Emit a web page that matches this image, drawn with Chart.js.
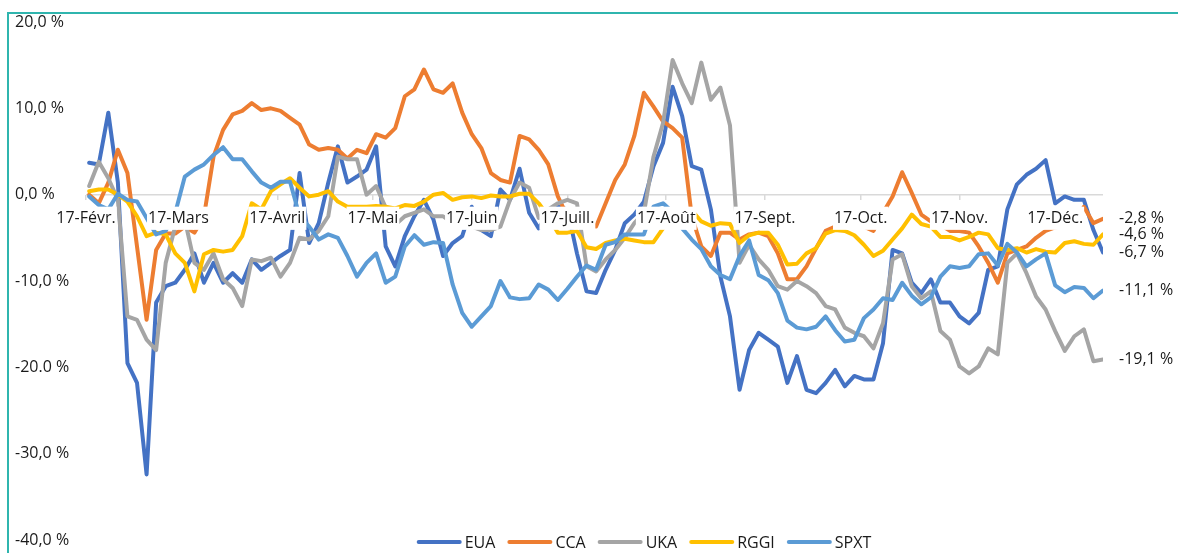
<!DOCTYPE html>
<html>
<head>
<meta charset="utf-8">
<script src="https://cdn.jsdelivr.net/npm/chart.js@4.4.0/dist/chart.umd.min.js"></script>
<style>
  html, body { margin: 0; padding: 0; background: #fff; }
  #wrap { position: relative; width: 1178px; height: 553px; }
</style>
</head>
<body>
<div id="wrap"><canvas id="chart" width="1178" height="553"></canvas></div>
<script>
// days since 17 Feb 2020 (x positions of the samples)
var days = [1, 4, 7, 10, 13, 16, 19, 22, 25, 28, 31, 34, 37, 40, 43, 46, 49, 52, 55, 58, 61, 64,
    67, 70, 73, 76, 79, 82, 85, 88, 91, 94, 97, 100, 103, 106, 109, 112, 115, 118, 121, 124, 127, 130,
    133, 136, 139, 142, 145, 148, 151, 154, 157, 160, 163, 166, 169, 172, 175, 178, 181, 184, 187, 190, 193, 196,
    199, 202, 205, 208, 211, 214, 217, 220, 223, 226, 229, 232, 235, 238, 241, 244, 247, 250, 253, 256, 259, 262,
    265, 268, 271, 274, 277, 280, 283, 286, 289, 292, 295, 298, 301, 304, 307, 310, 313, 316, 319];

var tickDays = [0, 29, 60, 90, 121, 151, 182, 213, 243, 274, 304];
var tickLabels = ['17-Févr.', '17-Mars', '17-Avril', '17-Mai', '17-Juin', '17-Juill.', '17-Août', '17-Sept.', '17-Oct.', '17-Nov.', '17-Déc.'];

var yTickValues = [20, 10, 0, -10, -20, -30, -40];
var yTickLabels = ['20,0 %', '10,0 %', '0,0 %', '-10,0 %', '-20.0 %', '-30,0 %', '-40,0 %'];

var eua = [3.7, 3.5, 9.5, 1.4, -19.5, -21.8, -32.4, -12.5, -10.6, -10.2, -8.7, -6.8, -10.2, -7.9, -10.2, -9.1, -10.2, -7.5, -8.7, -7.9, -7.1, -6.4,
    2.5, -5.6, -3.3, 1.4, 5.6, 1.4, 2.1, 2.9, 5.6, -6.0, -8.3, -4.8, -2.5, -0.6, -2.9, -7.1, -5.6, -4.8, -1.4, -4.1, -4.8, 0.6,
    -0.6, 3.0, -2.1, -3.9, -2.1, -1.4, -1.7, -6.8, -11.2, -11.4, -8.7, -6.4, -3.3, -2.3, -0.8, 3.3, 6.0, 12.5, 9.1, 3.3, 2.9, -1.7,
    -9.5, -14.1, -22.6, -18.0, -16.0, -16.8, -17.6, -21.8, -18.7, -22.6, -23.0, -21.8, -20.3, -22.2, -21.0, -21.4, -21.4, -17.2, -6.4, -6.8, -10.2, -11.4,
    -9.8, -12.5, -12.5, -14.1, -14.9, -13.7, -8.7, -8.3, -1.7, 1.2, 2.3, 3.0, 4.0, -1.0, -0.2, -0.6, -0.6, -4.1, -6.7];

var cca = [0.0, -1.0, 1.4, 5.2, 2.5, -6.0, -14.5, -6.4, -4.5, -4.5, -3.7, -4.4, -2.5, 4.4, 7.5, 9.3, 9.7, 10.6, 9.8, 10.0, 9.7, 8.9,
    8.1, 5.8, 5.2, 5.4, 5.2, 4.2, 5.2, 4.8, 7.0, 6.6, 7.7, 11.4, 12.2, 14.5, 12.2, 11.8, 12.9, 9.5, 7.0, 5.4, 2.5, 1.7,
    1.4, 6.8, 6.4, 5.2, 3.5, -0.2, -2.5, -3.3, -3.5, -3.7, -1.0, 1.7, 3.5, 6.8, 11.8, 10.2, 8.5, 7.7, 6.6, -2.5, -6.0, -7.1,
    -4.4, -4.4, -5.2, -4.6, -4.4, -4.8, -6.8, -9.8, -9.8, -8.3, -6.2, -4.2, -3.7, -2.1, -2.5, -3.7, -4.2, -2.1, -0.2, 2.6, 0.2, -2.3,
    -3.1, -3.5, -4.2, -4.2, -4.4, -6.0, -7.9, -10.2, -6.8, -6.4, -6.0, -5.0, -4.2, -3.8, -3.6, -3.4, -1.4, -3.3, -2.8];

var uka = [1.0, 3.8, 1.9, -0.6, -14.1, -14.5, -16.8, -18.0, -7.9, -3.7, -2.9, -7.9, -8.7, -6.8, -9.8, -10.8, -12.9, -7.5, -7.7, -7.3, -9.5, -7.9,
    -5.0, -5.2, -4.2, -2.5, 4.4, 4.1, 4.1, 0.0, 1.0, -1.5, -3.5, -2.5, -2.1, -1.7, -2.5, -2.5, -3.3, -3.3, -3.7, -4.1, -4.1, -3.7,
    -0.6, 1.4, 0.8, -2.7, -1.7, -1.0, -0.6, -1.0, -8.3, -8.9, -7.5, -6.4, -5.0, -3.3, -2.1, 4.4, 8.3, 15.6, 12.9, 10.6, 15.3, 11.0,
    12.4, 8.0, -7.9, -5.8, -7.5, -8.7, -10.6, -11.0, -10.0, -10.6, -11.4, -12.9, -13.3, -15.4, -16.0, -16.4, -17.8, -14.9, -7.5, -6.9, -10.6, -12.0,
    -11.2, -15.8, -16.8, -19.9, -20.7, -19.9, -17.8, -18.5, -7.9, -6.8, -9.1, -11.8, -13.3, -15.8, -18.1, -16.4, -15.6, -19.3, -19.1];

var rggi = [0.4, 0.6, 0.6, 0.0, -0.8, -2.5, -4.8, -4.4, -4.6, -6.8, -7.9, -11.2, -6.9, -6.4, -6.6, -6.4, -4.8, -1.0, -1.7, 0.4, 1.2, 1.9,
    0.8, -0.2, 0.0, 0.4, -0.8, -1.4, -1.4, -1.4, -1.3, -1.4, -1.6, -1.2, -1.3, -0.8, 0.0, 0.2, -0.6, -0.3, -0.2, -0.4, -0.1, -0.2,
    -0.2, 0.1, 0.1, -1.0, -2.5, -4.4, -4.4, -4.2, -6.1, -6.3, -5.6, -5.3, -5.1, -5.3, -5.5, -5.5, -3.9, -2.7, -1.9, -1.8, -3.1, -3.6,
    -3.3, -3.4, -5.6, -4.7, -4.4, -4.4, -5.8, -8.1, -8.0, -6.8, -6.2, -4.5, -4.1, -4.2, -4.7, -5.8, -7.1, -6.5, -5.2, -3.9, -2.3, -3.4,
    -3.7, -4.9, -4.9, -5.3, -4.9, -4.4, -4.6, -6.2, -6.4, -6.2, -6.7, -6.3, -6.6, -6.7, -5.6, -5.4, -5.7, -5.8, -4.6];

var spxt = [-0.2, -1.2, -1.7, 0.1, -0.6, -0.8, -2.7, -4.6, -4.2, -2.1, 2.1, 2.9, 3.5, 4.6, 5.5, 4.1, 4.1, 2.7, 1.4, 0.8, 1.5, 1.5,
    -2.5, -3.7, -5.2, -4.6, -5.0, -7.1, -9.5, -7.9, -6.8, -10.2, -9.5, -6.0, -4.7, -5.8, -5.5, -5.6, -10.4, -13.7, -15.3, -14.1, -12.9, -10.0,
    -11.9, -12.1, -12.0, -10.4, -11.0, -12.2, -10.9, -9.5, -8.2, -8.7, -5.8, -5.5, -4.6, -4.6, -4.6, -1.4, -1.0, -2.0, -3.9, -5.2, -6.3, -8.3,
    -9.3, -9.8, -7.1, -5.3, -9.3, -9.9, -11.4, -14.6, -15.4, -15.6, -15.3, -14.1, -15.7, -17.0, -16.8, -14.3, -13.3, -12.0, -12.2, -10.2, -11.7, -12.7,
    -11.9, -9.5, -8.3, -8.5, -8.3, -6.9, -6.8, -8.2, -5.7, -6.7, -8.3, -7.5, -6.8, -10.5, -11.3, -10.7, -10.8, -12.0, -11.1];

var seriesNames = ['EUA', 'CCA', 'UKA', 'RGGI', 'SPXT'];
var seriesValues = [eua, cca, uka, rggi, spxt];
var seriesColors = ['#4472C4', '#ED7D31', '#A5A5A5', '#FFC000', '#5B9BD5'];

var fontFamily = "'Open Sans', sans-serif";
var textColor = '#1a1a1a';

function pct(v) {
    return v.toFixed(1).replace('.', ',') + ' %';
}

// teal frame around the chart
var framePlugin = {
    id: 'frame',
    beforeDraw: function (chart) {
        var ctx = chart.ctx;
        ctx.save();
        ctx.fillStyle = '#fff';
        ctx.fillRect(0, 0, chart.width, chart.height);
        ctx.strokeStyle = '#2FB5AE';
        ctx.lineWidth = 2;
        ctx.strokeRect(8, 13, 2000, 2000);
        ctx.restore();
    }
};

// last value written right of each line
var endLabelPlugin = {
    id: 'endLabels',
    afterDatasetsDraw: function (chart) {
        var ctx = chart.ctx;
        ctx.save();
        ctx.font = '16px ' + fontFamily;
        ctx.fillStyle = textColor;
        ctx.textAlign = 'left';
        ctx.textBaseline = 'middle';
        chart.data.datasets.forEach(function (ds, i) {
            var meta = chart.getDatasetMeta(i);
            var last = meta.data[meta.data.length - 1];
            ctx.fillText(pct(ds.data[ds.data.length - 1]), last.x + 16, last.y);
        });
        ctx.restore();
    }
};

// legend along the bottom edge
var legendPlugin = {
    id: 'bottomLegend',
    afterDraw: function (chart) {
        var ctx = chart.ctx;
        var lineLen = 45, gap = 3, itemGap = 12;
        ctx.save();
        ctx.font = '16px ' + fontFamily;
        var total = 0;
        var sets = chart.data.datasets;
        sets.forEach(function (ds) {
            total += lineLen + gap + ctx.measureText(ds.label).width + itemGap;
        });
        total -= itemGap;
        var x = 644 - total / 2;
        var y = 542;
        ctx.textAlign = 'left';
        ctx.textBaseline = 'middle';
        sets.forEach(function (ds) {
            ctx.strokeStyle = ds.borderColor;
            ctx.lineWidth = 4;
            ctx.lineCap = 'round';
            ctx.beginPath();
            ctx.moveTo(x + 2, y);
            ctx.lineTo(x + lineLen - 2, y);
            ctx.stroke();
            x += lineLen + gap;
            ctx.fillStyle = textColor;
            ctx.fillText(ds.label, x, y + 1);
            x += ctx.measureText(ds.label).width + itemGap;
        });
        ctx.restore();
    }
};

var datasets = [];
for (var s = 0; s < seriesNames.length; s++) {
    datasets.push({
        label: seriesNames[s],
        data: seriesValues[s],
        borderColor: seriesColors[s],
        backgroundColor: seriesColors[s],
        borderWidth: 4,
        pointRadius: 0,
        tension: 0,
        borderJoinStyle: 'round',
        borderCapStyle: 'round',
        order: seriesNames.length - s
    });
}

var ctx = document.getElementById('chart').getContext('2d');
var chart = new Chart(ctx, {
    type: 'line',
    data: {
        labels: days,
        datasets: datasets
    },
    options: {
        responsive: false,
        animation: false,
        devicePixelRatio: 1,
        layout: {
            padding: { left: 15, right: 75, top: 22, bottom: 13 }
        },
        plugins: {
            legend: { display: false },
            tooltip: { enabled: false }
        },
        scales: {
            x: {
                type: 'linear',
                min: 0,
                max: 319,
                position: { y: 0 },
                border: { display: false },
                grid: {
                    drawOnChartArea: false,
                    drawTicks: true,
                    tickLength: 5,
                    color: '#D9D9D9',
                    lineWidth: 1.5
                },
                afterBuildTicks: function (scale) {
                    scale.ticks = tickDays.map(function (d) { return { value: d }; });
                },
                ticks: {
                    z: 1,
                    autoSkip: false,
                    maxRotation: 0,
                    padding: 9,
                    color: textColor,
                    font: { family: fontFamily, size: 16 },
                    showLabelBackdrop: true,
                    backdropColor: '#fff',
                    backdropPadding: { x: 1, y: 2 },
                    callback: function (value) {
                        var i = tickDays.indexOf(value);
                        return i >= 0 ? tickLabels[i] : '';
                    }
                }
            },
            y: {
                min: -40,
                max: 20,
                border: { display: false },
                grid: {
                    drawTicks: false,
                    lineWidth: 1.5,
                    color: function (c) {
                        return c.tick && c.tick.value === 0 ? '#D9D9D9' : 'rgba(0,0,0,0)';
                    }
                },
                afterBuildTicks: function (scale) {
                    scale.ticks = yTickValues.map(function (v) { return { value: v }; });
                },
                afterFit: function (scale) {
                    scale.width = 71;
                },
                ticks: {
                    crossAlign: 'far',
                    padding: 0,
                    color: textColor,
                    font: { family: fontFamily, size: 16 },
                    callback: function (value) {
                        var i = yTickValues.indexOf(value);
                        return i >= 0 ? yTickLabels[i] : '';
                    }
                }
            }
        }
    },
    plugins: [framePlugin, endLabelPlugin, legendPlugin]
});
</script>
</body>
</html>
